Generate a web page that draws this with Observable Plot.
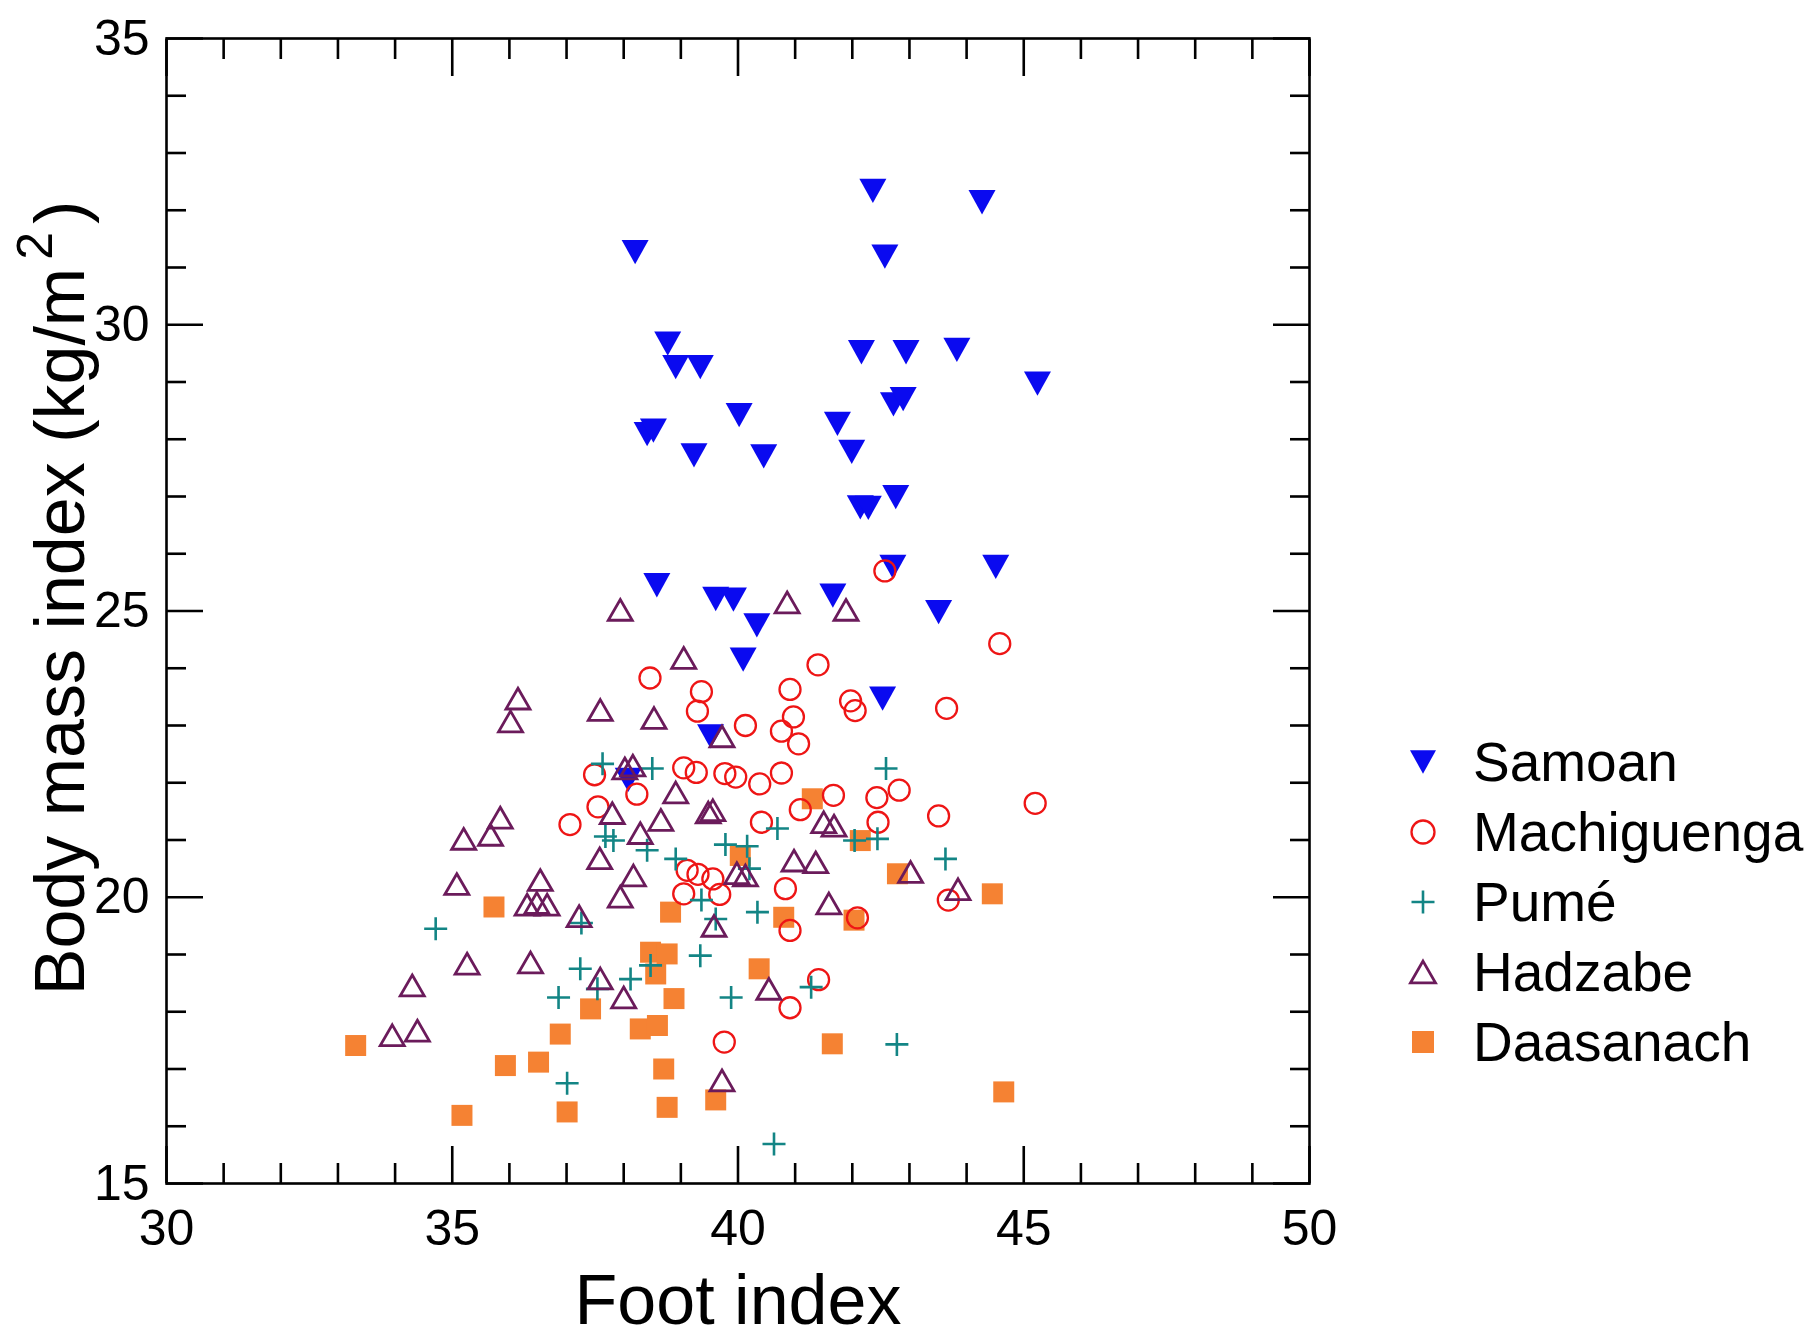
<!DOCTYPE html>
<html><head><meta charset="utf-8">
<script src="https://cdn.jsdelivr.net/npm/d3@7"></script>
<script src="https://cdn.jsdelivr.net/npm/@observablehq/plot@0.6"></script>
<style>
html,body{margin:0;padding:0;background:#fff;}
#wrap{position:relative;width:1817px;height:1339px;}
#legend{position:absolute;left:1395px;top:727px;font-family:"Liberation Sans",Arial,sans-serif;font-size:55px;color:#000;}
.row{display:flex;align-items:center;height:70px;white-space:nowrap;}
.row svg{width:56px;height:70px;flex:none;}
.row span{margin-left:22px;}
</style></head><body><div id="wrap"><div id="legend"></div></div>
<script>
// ---- data ----
const groups = ["Samoan", "Machiguenga", "Pumé", "Hadzabe", "Daasanach"];
const groupColors = ["#0a0af0", "#ee1515", "#138585", "#6b1b5b", "#f58233"];
const xMajorTicks = [30, 35, 40, 45, 50];
const xMinorTicks = [31,32,33,34,36,37,38,39,41,42,43,44,46,47,48,49];
const yMajorTicks = [15, 20, 25, 30, 35];
const yMinorTicks = [16,17,18,19,21,22,23,24,26,27,28,29,31,32,33,34];
const xLabel = "Foot index";
const yLabel = "Body mass index (kg/m2)";

const samoan = [[42.36,32.34],[44.27,32.14],[38.20,31.27],[42.57,31.19],[38.77,29.67],[38.91,29.26],[39.34,29.26],
  [42.16,29.52],[42.94,29.52],[43.83,29.56],[45.24,28.97],[42.72,28.61],[42.89,28.70],[38.41,28.09],[38.52,28.15],
  [40.02,28.42],[39.23,27.72],[40.45,27.70],[41.74,28.27],[41.99,27.78],[42.14,26.81],[42.28,26.80],[42.76,26.99],
  [38.58,25.45],[39.61,25.21],[39.92,25.20],[40.33,24.75],[41.66,25.27],[42.71,25.77],[44.51,25.77],[43.51,24.98],
  [40.09,24.15],[42.53,23.47],[39.52,22.81],[38.08,22.05]];
const machiguenga = [[42.57,25.70],[44.58,24.43],[38.46,23.83],[39.36,23.59],[39.29,23.25],[41.40,24.06],[40.91,23.63],
  [40.13,23.00],[40.97,23.15],[40.76,22.90],[41.06,22.68],[41.97,23.43],[42.05,23.26],[43.65,23.30],[39.05,22.26],
  [39.27,22.18],[39.77,22.16],[39.96,22.10],[40.38,21.98],[40.76,22.17],[37.49,22.14],[37.55,21.58],[38.23,21.80],
  [37.06,21.27],[40.41,21.31],[41.09,21.53],[41.67,21.78],[42.43,21.74],[42.45,21.31],[42.82,21.87],[43.51,21.42],
  [45.20,21.64],[39.11,20.47],[39.30,20.40],[39.56,20.32],[39.05,20.06],[39.68,20.05],[40.83,20.15],[42.09,19.64],
  [40.91,19.42],[41.41,18.56],[39.76,17.47],[40.91,18.07],[43.68,19.95]];
const pume = [[37.63,22.33],[38.50,22.25],[42.59,22.25],[37.68,21.06],[37.82,20.99],[38.41,20.82],[38.91,20.67],
  [39.78,20.92],[40.16,20.89],[40.69,21.20],[40.20,20.50],[39.36,19.95],[40.34,19.74],[34.71,19.45],[37.26,19.55],
  [42.04,20.99],[42.44,21.02],[43.63,20.67],[37.24,18.75],[38.12,18.57],[38.47,18.81],[39.34,18.98],[39.88,18.25],
  [36.86,18.25],[41.28,18.43],[42.78,17.43],[37.01,16.75],[40.63,15.69],[37.54,18.40],[39.61,19.62]];
const hadzabe = [[37.94,25.02],[39.05,24.18],[40.86,25.15],[41.89,25.02],[36.15,23.47],[36.02,23.07],[37.59,23.27],
  [38.53,23.13],[38.02,22.25],[38.16,22.30],[39.72,22.81],[38.91,21.83],[39.48,21.48],[39.56,21.52],[37.80,21.47],
  [38.65,21.35],[38.29,21.12],[37.58,20.68],[38.17,20.38],[37.94,20.01],[37.22,19.67],[39.58,19.50],[35.84,21.39],
  [35.67,21.09],[35.20,21.02],[35.08,20.23],[36.54,20.30],[36.31,19.87],[36.48,19.90],[36.66,19.87],[35.26,18.84],
  [36.37,18.86],[34.30,18.46],[37.59,18.58],[38.00,18.25],[33.95,17.59],[34.39,17.67],[39.72,16.80],[41.50,21.31],
  [41.68,21.25],[40.98,20.64],[41.36,20.61],[39.98,20.42],[40.13,20.38],[43.02,20.44],[43.85,20.14],[41.59,19.89],
  [40.54,18.40]];
const daasanach = [[41.30,21.72],[42.14,20.99],[40.04,20.73],[42.79,20.41],[44.45,20.06],[40.80,19.65],[42.03,19.60],
  [40.37,18.75],[41.65,17.44],[44.65,16.60],[39.61,16.46],[35.73,19.83],[38.82,19.74],[38.47,19.04],[38.76,19.01],
  [38.56,18.66],[38.88,18.23],[37.42,18.05],[38.29,17.70],[38.59,17.76],[36.89,17.61],[33.31,17.41],[35.93,17.06],
  [36.51,17.12],[38.70,17.00],[35.17,16.19],[37.01,16.25],[38.76,16.33]];

// ---- symbols ----
const rOf = (size) => Math.sqrt(size / Math.PI);
const triDown = {draw(c, size){ const r = rOf(size), h = r*1.8; c.moveTo(-r,-h/2); c.lineTo(r,-h/2); c.lineTo(0,h/2); c.closePath(); }};
const triUp = {draw(c, size){ const r = rOf(size), h = r*Math.sqrt(3); c.moveTo(0,-h/2); c.lineTo(r,h/2); c.lineTo(-r,h/2); c.closePath(); }};
const plusSym = {draw(c, size){ const r = rOf(size); c.moveTo(-r,0); c.lineTo(r,0); c.moveTo(0,-r); c.lineTo(0,r); }};
const squareSym = {draw(c, size){ const r = rOf(size); c.rect(-r,-r,2*r,2*r); }};
const circleSym = {draw(c, size){ const r = rOf(size); c.moveTo(r,0); c.arc(0,0,r,0,2*Math.PI); }};

const styles = [
  {data: samoan, symbol: triDown, r: 13.5, fill: groupColors[0], stroke: "none", strokeWidth: 0, lr: 13},
  {data: machiguenga, symbol: circleSym, r: 10.5, fill: "none", stroke: groupColors[1], strokeWidth: 2.3, lr: 11.5},
  {data: pume, symbol: plusSym, r: 11.5, fill: "none", stroke: groupColors[2], strokeWidth: 2.6, lr: 11.5},
  {data: hadzabe, symbol: triUp, r: 12, fill: "none", stroke: groupColors[3], strokeWidth: 2.8, lr: 12.5},
  {data: daasanach, symbol: squareSym, r: 10.5, fill: groupColors[4], stroke: "none", strokeWidth: 0, lr: 11}
];
const drawOrder = [4, 0, 1, 2, 3];

const mainFont = "'Liberation Sans', Arial, sans-serif";
const axCommon = {label: null, strokeWidth: 2.6, fill: "none"};

const chart = Plot.plot({
  width: 1817, height: 1339,
  marginLeft: 166, marginRight: 508, marginTop: 38, marginBottom: 156,
  x: {domain: [30, 50], label: null},
  y: {domain: [15, 35], label: null},
  style: {fontFamily: mainFont, color: "#000", background: "#fff", overflow: "visible"},
  marks: [
    ...drawOrder.map(i => Plot.dot(styles[i].data, {
      x: d => d[0], y: d => d[1], symbol: styles[i].symbol, r: styles[i].r,
      fill: styles[i].fill, stroke: styles[i].stroke, strokeWidth: styles[i].strokeWidth
    })),
    Plot.axisX(xMajorTicks, {...axCommon, anchor: "bottom", tickSize: -37}),
    Plot.axisX(xMinorTicks, {...axCommon, anchor: "bottom", tickSize: -20}),
    Plot.axisX(xMajorTicks, {...axCommon, anchor: "top", tickSize: -37}),
    Plot.axisX(xMinorTicks, {...axCommon, anchor: "top", tickSize: -20}),
    Plot.axisY(yMajorTicks, {...axCommon, anchor: "left", tickSize: -37}),
    Plot.axisY(yMinorTicks, {...axCommon, anchor: "left", tickSize: -20}),
    Plot.axisY(yMajorTicks, {...axCommon, anchor: "right", tickSize: -37}),
    Plot.axisY(yMinorTicks, {...axCommon, anchor: "right", tickSize: -20}),
    Plot.axisX(xMajorTicks, {anchor: "bottom", label: null, tickSize: 0, tickPadding: 26, fontSize: 50, tickFormat: "d", fontFamily: mainFont, fill: "#000"}),
    Plot.axisY(yMajorTicks, {anchor: "left", label: null, tickSize: 0, tickPadding: 17, fontSize: 50, tickFormat: "d", fontFamily: mainFont, fill: "#000"}),
    Plot.frame({stroke: "#000", strokeWidth: 2.6}),
    Plot.text([xLabel], {text: d => d, frameAnchor: "bottom", textAnchor: "middle", dy: 140, fontSize: 70, fill: "#000", fontFamily: mainFont}),
    Plot.text([yLabel], {text: d => d, frameAnchor: "left", textAnchor: "middle", lineAnchor: "middle", rotate: -90, dx: -105, dy: -13, fontSize: 70, fill: "#000", fontFamily: mainFont})
  ]
});
document.getElementById("wrap").prepend(chart);

// superscript in y label
d3.select(chart).selectAll("text").each(function() {
  if (this.textContent === yLabel) {
    const t = d3.select(this);
    t.text("Body mass index (kg/m");
    t.append("tspan").attr("font-size", 50).attr("dy", -32).attr("dx", 8).text("2");
    t.append("tspan").attr("dy", 32).attr("dx", 8).text(")");
  }
});

// legend
const legend = d3.select("#legend");
groups.forEach((g, i) => {
  const s = styles[i];
  const row = legend.append("div").attr("class", "row");
  const svg = row.append("svg").attr("viewBox", "-28 -35 56 70");
  const p = d3.path();
  s.symbol.draw(p, Math.PI * s.lr * s.lr);
  svg.append("path").attr("d", p.toString()).attr("fill", s.fill).attr("stroke", s.stroke).attr("stroke-width", s.strokeWidth || null);
  row.append("span").text(g);
});
</script>
</body></html>
